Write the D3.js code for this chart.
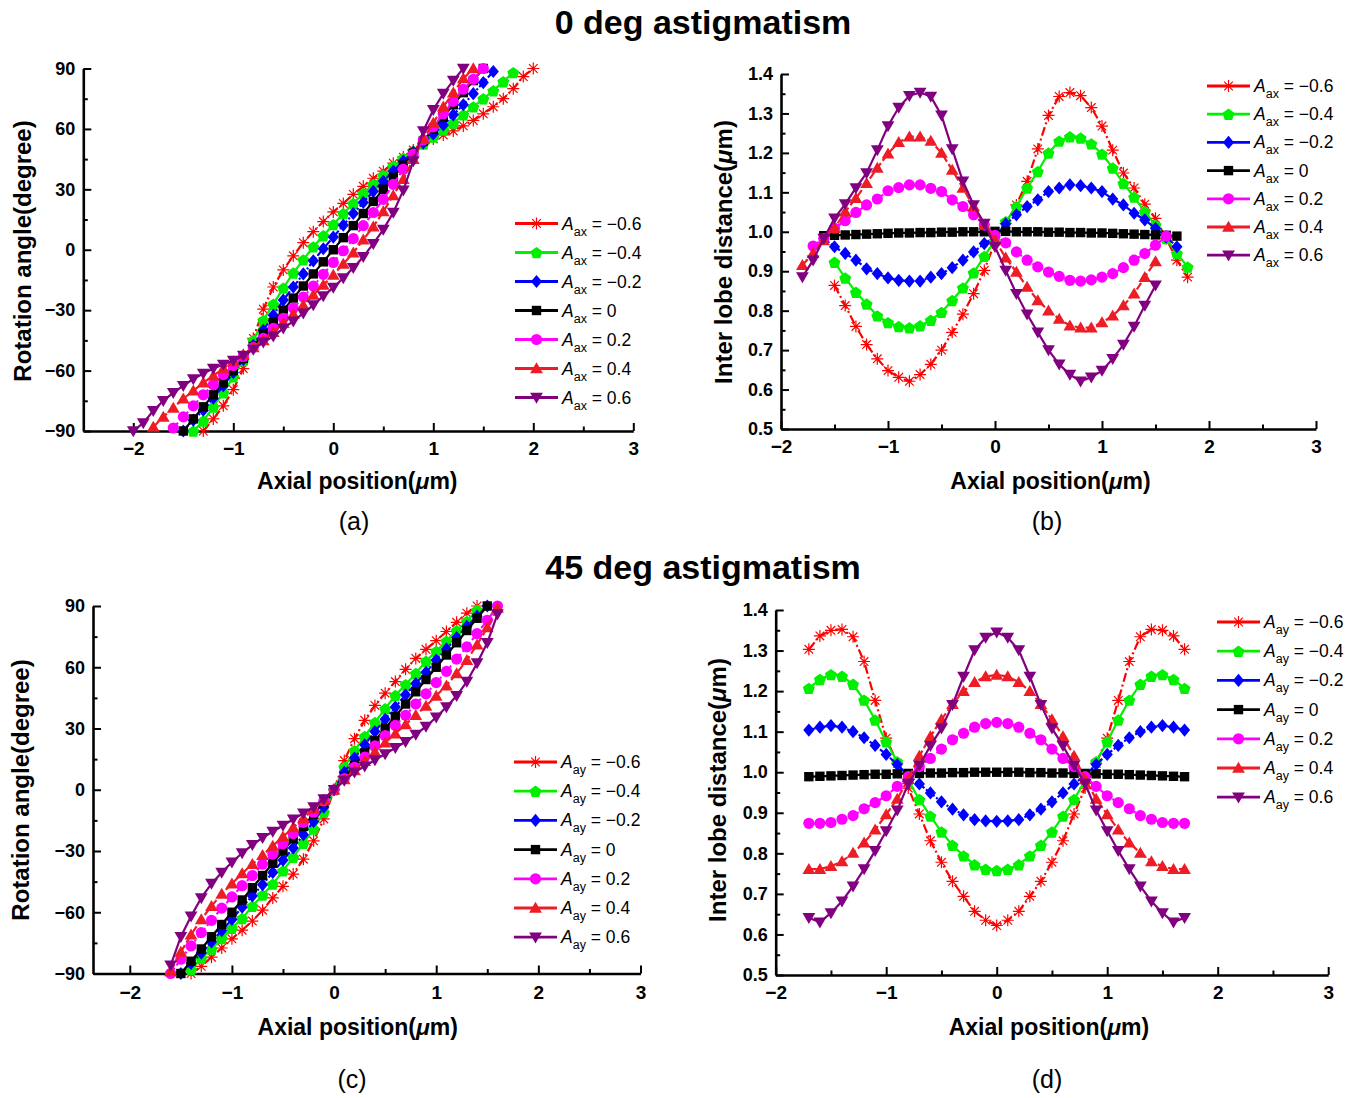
<!DOCTYPE html>
<html>
<head>
<meta charset="utf-8">
<script src="https://cdn.jsdelivr.net/npm/d3@7"></script>
<style>
  body { margin: 0; background: #fff; }
  text { font-family: "Liberation Sans", Arial, sans-serif; }
</style>
</head>
<body>
<svg id="chart" width="1353" height="1098"></svg>
<script>
// sampling grid of axial positions (um)
const axialGrid = [-2.0, -1.9, -1.8, -1.7, -1.6, -1.5, -1.4, -1.3, -1.2, -1.1, -1.0,
  -0.9, -0.8, -0.7, -0.6, -0.5, -0.4, -0.3, -0.2, -0.1, 0.0, 0.1, 0.2, 0.3, 0.4, 0.5,
  0.6, 0.7, 0.8, 0.9, 1.0, 1.1, 1.2, 1.3, 1.4, 1.5, 1.6, 1.7, 1.8, 1.9, 2.0];

const coefLabels = ['\u22120.6', '\u22120.4', '\u22120.2', '0', '0.2', '0.4', '0.6'];

// (a) rotation angle, 0 deg astigmatism
const panelA_starts = [-1.3, -1.4, -1.5, -1.5, -1.6, -1.8, -2.0];
const panelA_m06 = [-90, -84, -77.5, -69.5, -59, -44, -29.5, -18.5, -10, -3, 3.5, 9, 14, 18.8, 23, 27.5, 31.5, 35.5, 39, 43, 46, 49.5, 52.5, 55, 57, 59, 61.5, 64.2, 67.5, 71, 75, 80, 86, 90];
const panelA_m04 = [-90, -85, -78, -71, -63, -55, -45, -35, -27, -19, -11.5, -5, 1.5, 7, 12.5, 18, 23, 28, 32.5, 37, 41.5, 45.5, 49, 52.5, 56, 59.5, 63, 67, 71, 75, 79, 83.5, 88];
const panelA_m02 = [-90, -84.6, -79.7, -73.7, -67.5, -61, -54.5, -47.5, -40, -32.5, -25, -18.5, -12, -5.5, 0.5, 6.3, 12.2, 18, 23.5, 29, 34, 39, 44, 48.5, 53, 57.5, 62, 67, 72, 77.5, 83, 88.5];
const panelA_0 = [-90, -84, -78, -72, -66, -60, -54, -48, -42, -36, -30, -24, -18, -12, -6, 0, 6, 12, 18, 24, 30, 36, 42, 48, 54, 60, 66, 72, 78, 84, 90];
const panelA_p02 = [-88.5, -83, -77.5, -72, -67, -62, -57.5, -53, -48.5, -44, -39, -34, -29, -23.5, -18, -12.2, -6.3, -0.5, 5.5, 12, 18.5, 25, 32.5, 40, 47.5, 54.5, 61, 67.5, 73.7, 79.7, 84.6, 90];
const panelA_p04 = [-88, -83, -78.5, -74, -70, -66, -62.5, -59, -55.5, -52, -48.5, -45, -41, -36.5, -32, -27.5, -22.5, -17.5, -12.5, -7, -1.5, 5, 11.5, 19, 27, 35, 45, 55, 63, 71, 78, 85, 90];
const panelA_p06 = [-90, -86, -80, -75, -71, -67.5, -64.2, -61.5, -59, -57, -55, -52.5, -49.5, -46, -43, -39, -35.5, -31.5, -27.5, -23, -18.8, -14, -9, -3.5, 3, 10, 18.5, 29.5, 44, 59, 69.5, 77.5, 84, 90];

// (b) inter lobe distance, 0 deg astigmatism
const panelB_starts = [-1.5, -1.5, -1.6, -1.6, -1.7, -1.8, -1.8];
const panelB_m06 = [0.864, 0.813, 0.760, 0.714, 0.678, 0.648, 0.631, 0.621, 0.638, 0.664, 0.700, 0.745, 0.791, 0.843, 0.902, 0.975, 1.021, 1.068, 1.128, 1.210, 1.295, 1.343, 1.353, 1.345, 1.315, 1.268, 1.207, 1.149, 1.111, 1.070, 1.034, 0.983, 0.928, 0.885];
const panelB_m04 = [0.923, 0.883, 0.847, 0.817, 0.787, 0.770, 0.760, 0.757, 0.762, 0.776, 0.796, 0.826, 0.858, 0.896, 0.938, 0.978, 1.026, 1.064, 1.111, 1.153, 1.200, 1.230, 1.241, 1.238, 1.223, 1.197, 1.162, 1.123, 1.088, 1.051, 1.017, 0.983, 0.945, 0.911];
const panelB_m02 = [0.983, 0.962, 0.945, 0.928, 0.906, 0.894, 0.883, 0.877, 0.875, 0.875, 0.885, 0.894, 0.909, 0.928, 0.949, 0.970, 0.987, 1.020, 1.043, 1.064, 1.081, 1.102, 1.111, 1.119, 1.117, 1.111, 1.102, 1.083, 1.068, 1.047, 1.030, 1.009, 0.987, 0.962];
const panelB_0 = [0.990, 0.991, 0.992, 0.993, 0.994, 0.995, 0.996, 0.997, 0.997, 0.998, 0.998, 0.999, 0.999, 1.000, 1.000, 1.000, 1.001, 1.001, 1.000, 1.000, 1.000, 0.999, 0.999, 0.998, 0.998, 0.997, 0.997, 0.996, 0.995, 0.994, 0.993, 0.992, 0.991, 0.989];
const panelB_p02 = [0.964, 0.983, 1.009, 1.028, 1.049, 1.068, 1.083, 1.104, 1.112, 1.119, 1.119, 1.110, 1.102, 1.081, 1.064, 1.043, 1.017, 0.991, 0.972, 0.949, 0.928, 0.911, 0.898, 0.887, 0.877, 0.875, 0.878, 0.885, 0.894, 0.909, 0.928, 0.945, 0.966, 0.989];
const panelB_p04 = [0.915, 0.946, 0.978, 1.009, 1.051, 1.085, 1.123, 1.162, 1.198, 1.227, 1.241, 1.241, 1.230, 1.200, 1.157, 1.111, 1.064, 1.017, 0.979, 0.934, 0.898, 0.860, 0.826, 0.800, 0.779, 0.762, 0.757, 0.757, 0.770, 0.787, 0.813, 0.843, 0.885, 0.925];
const panelB_p06 = [0.885, 0.928, 0.983, 1.034, 1.070, 1.111, 1.149, 1.207, 1.268, 1.315, 1.345, 1.353, 1.343, 1.295, 1.210, 1.128, 1.068, 1.021, 0.962, 0.902, 0.843, 0.791, 0.745, 0.700, 0.664, 0.638, 0.621, 0.631, 0.648, 0.678, 0.714, 0.760, 0.813, 0.864];

// (c) rotation angle, 45 deg astigmatism
const panelC_starts = [-1.4, -1.4, -1.5, -1.5, -1.6, -1.6, -1.6];
const panelC_m06 = [-90, -86.5, -82, -77.5, -73, -68.8, -64.3, -59, -53, -47.3, -41.3, -34, -25, -14.3, 0, 14.3, 25, 34, 41.3, 47.3, 53, 59, 64.3, 68.8, 73, 77.5, 82, 86.5, 90];
const panelC_m04 = [-88, -82.5, -78, -72.8, -67.8, -63, -57, -51.5, -46.2, -39.7, -33, -26.2, -19.2, -11, 0, 11, 19.2, 26.2, 33, 39.7, 46.2, 51.5, 57, 63, 67.8, 72.8, 78, 82.5, 88];
const panelC_m02 = [-90, -85, -80, -74.5, -69, -63.5, -57.5, -52, -46.5, -40.5, -34.5, -28.5, -22, -15.5, -8.5, 0, 8.5, 15.5, 22, 28.5, 34.5, 40.5, 46.5, 52, 57.5, 63.5, 69, 74.5, 80, 85, 90];
const panelC_0 = [-90, -84, -78, -72, -66, -60, -54, -48, -42, -36, -30, -24, -18, -12, -6, 0, 6, 12, 18, 24, 30, 36, 42, 48, 54, 60, 66, 72, 78, 84, 90];
const panelC_p02 = [-90, -83, -76.5, -70, -64, -58, -52.5, -47, -42, -36.5, -31.5, -26.5, -21.5, -16, -11, -5.5, 0, 5.5, 11, 16, 21.5, 26.5, 31.5, 36.5, 42, 47, 52.5, 58, 64, 70, 76.5, 83, 90];
const panelC_p04 = [-89, -79.5, -71, -63.5, -57, -51, -46, -41, -36.5, -32, -27.5, -23, -18.5, -14, -9.5, -5, 0, 5, 9.5, 14, 18.5, 23, 27.5, 32, 36.5, 41, 46, 51, 57, 63.5, 71, 79.5, 89];
const panelC_p06 = [-86, -72, -62, -53, -46, -40.5, -35.5, -31, -27, -23.5, -20.5, -17.5, -14.5, -11.5, -8.5, -4.5, 0, 4.5, 8.5, 11.5, 14.5, 17.5, 20.5, 23.5, 27, 31, 35.5, 40.5, 46, 53, 62, 72, 86];

// (d) inter lobe distance, 45 deg astigmatism
const panelD_starts = [-1.7, -1.7, -1.7, -1.7, -1.7, -1.7, -1.7];
const panelD_m06 = [1.303, 1.336, 1.350, 1.352, 1.334, 1.273, 1.177, 1.084, 1.022, 0.961, 0.897, 0.831, 0.778, 0.731, 0.694, 0.657, 0.635, 0.622, 0.635, 0.657, 0.694, 0.731, 0.778, 0.831, 0.897, 0.961, 1.022, 1.084, 1.177, 1.273, 1.334, 1.352, 1.350, 1.336, 1.303];
const panelD_m04 = [1.207, 1.229, 1.241, 1.237, 1.217, 1.178, 1.129, 1.075, 1.026, 0.979, 0.933, 0.892, 0.853, 0.820, 0.794, 0.772, 0.761, 0.758, 0.761, 0.772, 0.794, 0.820, 0.853, 0.892, 0.933, 0.979, 1.026, 1.075, 1.129, 1.178, 1.217, 1.237, 1.241, 1.229, 1.207];
const panelD_m02 = [1.104, 1.111, 1.115, 1.111, 1.100, 1.085, 1.066, 1.044, 1.019, 0.992, 0.971, 0.949, 0.927, 0.909, 0.895, 0.883, 0.880, 0.879, 0.880, 0.883, 0.895, 0.909, 0.927, 0.949, 0.971, 0.992, 1.019, 1.044, 1.066, 1.085, 1.100, 1.111, 1.115, 1.111, 1.104];
const panelD_0 = [0.989, 0.990, 0.991, 0.992, 0.993, 0.994, 0.995, 0.995, 0.996, 0.997, 0.997, 0.998, 0.998, 0.999, 0.999, 1.000, 1.000, 1.000, 1.000, 1.000, 0.999, 0.999, 0.998, 0.998, 0.997, 0.997, 0.996, 0.995, 0.995, 0.994, 0.993, 0.992, 0.991, 0.990, 0.989];
const panelD_p02 = [0.874, 0.874, 0.876, 0.884, 0.893, 0.910, 0.925, 0.942, 0.965, 0.989, 1.014, 1.034, 1.057, 1.080, 1.096, 1.111, 1.120, 1.123, 1.120, 1.111, 1.096, 1.080, 1.057, 1.034, 1.014, 0.989, 0.965, 0.942, 0.925, 0.910, 0.893, 0.884, 0.876, 0.874, 0.874];
const panelD_p04 = [0.761, 0.761, 0.768, 0.780, 0.801, 0.826, 0.858, 0.896, 0.934, 0.983, 1.040, 1.088, 1.130, 1.168, 1.200, 1.222, 1.236, 1.240, 1.236, 1.222, 1.200, 1.168, 1.130, 1.088, 1.040, 0.983, 0.934, 0.896, 0.858, 0.826, 0.801, 0.780, 0.768, 0.761, 0.761];
const panelD_p06 = [0.641, 0.630, 0.653, 0.682, 0.719, 0.761, 0.806, 0.855, 0.906, 0.972, 1.017, 1.065, 1.108, 1.166, 1.236, 1.301, 1.332, 1.345, 1.332, 1.301, 1.236, 1.166, 1.108, 1.065, 1.017, 0.972, 0.906, 0.855, 0.806, 0.761, 0.719, 0.682, 0.653, 0.630, 0.641];

const angleTicks = [-90, -60, -30, 0, 30, 60, 90];
const angleMinor = [-75, -45, -15, 15, 45, 75];
const distTicks = [0.5, 0.6, 0.7, 0.8, 0.9, 1.0, 1.1, 1.2, 1.3, 1.4];
const distMinor = [0.55, 0.65, 0.75, 0.85, 0.95, 1.05, 1.15, 1.25, 1.35];
const axialTicks = [-2, -1, 0, 1, 2, 3];
const axialMinor = [-1.5, -0.5, 0.5, 1.5, 2.5];

// look of each series, in legend order
const styles = [
  { color: '#ff0000', marker: 'asterisk', dash: '9,3,2,3' },
  { color: '#00f000', marker: 'pentagon', dash: null },
  { color: '#0000ff', marker: 'diamond', dash: '7,2,2,2' },
  { color: '#000000', marker: 'square', dash: null },
  { color: '#ff00ff', marker: 'circle', dash: '7,3,2,3' },
  { color: '#ee1c25', marker: 'triangleUp', dash: '8,3' },
  { color: '#800080', marker: 'triangleDown', dash: null }
];

const svg = d3.select('#chart');

function markerPath(kind) {
  switch (kind) {
    case 'asterisk': return 'M-6,0H6M0,-6V6M-4.3,-4.3L4.3,4.3M-4.3,4.3L4.3,-4.3';
    case 'pentagon': {
      const r = 6.3;
      const pts = d3.range(5).map(k => {
        const a = -Math.PI / 2 + k * 2 * Math.PI / 5;
        return [r * Math.cos(a), r * Math.sin(a) + 0.7];
      });
      return 'M' + pts.map(p => p.join(',')).join('L') + 'Z';
    }
    case 'diamond': return 'M0,-6.6L5.6,0L0,6.6L-5.6,0Z';
    case 'square': return 'M-4.7,-4.7H4.7V4.7H-4.7Z';
    case 'circle': return d3.symbol(d3.symbolCircle, 98)();
    case 'triangleUp': return 'M0,-6.2L6.4,4.8L-6.4,4.8Z';
    case 'triangleDown': return 'M0,6.2L6.4,-4.8L-6.4,-4.8Z';
  }
}

function styleMarker(sel, st) {
  if (st.marker === 'asterisk') {
    sel.attr('fill', 'none').attr('stroke', st.color).attr('stroke-width', 1.2);
  } else {
    sel.attr('fill', st.color).attr('stroke', 'none');
  }
}

function pointsFrom(values, start) {
  const k = axialGrid.findIndex(z => Math.abs(z - start) < 1e-6);
  return values.map((v, i) => [axialGrid[k + i], v]);
}

function drawPanel(p) {
  const x = d3.scaleLinear().domain(p.xDomain).range([p.left, p.right]);
  const y = d3.scaleLinear().domain(p.yDomain).range([p.bottom, p.top]);
  const g = svg.append('g');

  // minor ticks
  g.append('g').attr('transform', `translate(0,${p.bottom})`)
    .call(d3.axisBottom(x).tickValues(axialMinor).tickSize(-4.5).tickFormat(''))
    .call(a => a.select('.domain').remove())
    .selectAll('line').attr('stroke-width', 2);
  g.append('g').attr('transform', `translate(${p.left},0)`)
    .call(d3.axisLeft(y).tickValues(p.yMinor).tickSize(-4.5).tickFormat(''))
    .call(a => a.select('.domain').remove())
    .selectAll('line').attr('stroke-width', 2);

  // main axes
  const xa = g.append('g').attr('transform', `translate(0,${p.bottom})`)
    .call(d3.axisBottom(x).tickValues(axialTicks).tickSizeInner(-8).tickSizeOuter(0)
      .tickPadding(p.xPad).tickFormat(d3.format('d')));
  xa.attr('font-size', 19).attr('font-weight', 'bold').attr('font-family', null);
  const ya = g.append('g').attr('transform', `translate(${p.left},0)`)
    .call(d3.axisLeft(y).tickValues(p.yTicks).tickSizeInner(-8).tickSizeOuter(0)
      .tickPadding(8).tickFormat(p.yFormat));
  ya.attr('font-size', 18).attr('font-weight', 'bold').attr('font-family', null);
  [xa, ya].forEach(a => {
    a.select('.domain').attr('stroke-width', 2.6);
    a.selectAll('line').attr('stroke-width', 2);
  });

  // series
  const line = d3.line().x(d => x(d[0])).y(d => y(d[1]));
  p.series.forEach((vals, i) => {
    const st = styles[i];
    const pts = pointsFrom(vals, p.starts[i]);
    const sg = g.append('g');
    sg.append('path').datum(pts)
      .attr('d', line)
      .attr('fill', 'none')
      .attr('stroke', st.color)
      .attr('stroke-width', 2.2)
      .attr('stroke-dasharray', st.dash);
    sg.selectAll('path.mk').data(pts).join('path')
      .attr('class', 'mk')
      .attr('d', markerPath(st.marker))
      .attr('transform', d => `translate(${x(d[0])},${y(d[1])})`)
      .call(styleMarker, st);
  });

  // legend
  const lg = g.append('g');
  coefLabels.forEach((lab, i) => {
    const st = styles[i];
    const ry = p.legY + i * p.legStep;
    lg.append('line')
      .attr('x1', p.legX).attr('x2', p.legX + 43)
      .attr('y1', ry).attr('y2', ry)
      .attr('stroke', st.color).attr('stroke-width', 2.8);
    lg.append('path')
      .attr('d', markerPath(st.marker))
      .attr('transform', `translate(${p.legX + 21.5},${ry})`)
      .call(styleMarker, st);
    const t = lg.append('text')
      .attr('x', p.legX + 47).attr('y', ry + 6)
      .attr('font-size', 17.5);
    t.append('tspan').attr('font-style', 'italic').text('A');
    t.append('tspan').attr('font-size', 12.5).attr('dy', 6).text(p.sub);
    t.append('tspan').attr('dy', -6).text(' = ' + lab);
  });

  // axis titles
  const xt = g.append('text')
    .attr('x', (p.left + p.right) / 2 + p.xTitleShift).attr('y', p.xTitleY)
    .attr('text-anchor', 'middle').attr('font-size', 23).attr('font-weight', 'bold');
  xt.append('tspan').text('Axial position(');
  xt.append('tspan').attr('font-style', 'italic').text('\u03bc');
  xt.append('tspan').text('m)');

  const yt = g.append('text')
    .attr('transform', `translate(${p.yTitleX},${p.yTitleY}) rotate(-90)`)
    .attr('text-anchor', 'middle').attr('dy', '0.36em')
    .attr('font-size', 24).attr('font-weight', 'bold');
  if (p.yUnit) {
    yt.append('tspan').text(p.yTitle + '(');
    yt.append('tspan').attr('font-style', 'italic').text('\u03bc');
    yt.append('tspan').text('m)');
  } else {
    yt.text(p.yTitle);
  }

  g.append('text')
    .attr('x', p.capX).attr('y', p.capY)
    .attr('text-anchor', 'middle').attr('font-size', 25)
    .text(p.cap);
}

drawPanel({
  left: 83.3, right: 633.3, top: 68.5, bottom: 431,
  xDomain: [-2.5, 3], yDomain: [-90, 90],
  yTicks: angleTicks, yMinor: angleMinor, yFormat: d3.format('d'), xPad: 11,
  series: [panelA_m06, panelA_m04, panelA_m02, panelA_0, panelA_p02, panelA_p04, panelA_p06],
  starts: panelA_starts, sub: 'ax',
  legX: 515, legY: 223.5, legStep: 29,
  xTitleY: 489, xTitleShift: -1, yTitleX: 22, yTitleY: 251,
  yTitle: 'Rotation angle(degree)', yUnit: false,
  cap: '(a)', capX: 354, capY: 530
});

drawPanel({
  left: 781, right: 1316, top: 74, bottom: 429,
  xDomain: [-2, 3], yDomain: [0.5, 1.4],
  yTicks: distTicks, yMinor: distMinor, yFormat: d3.format('.1f'), xPad: 11,
  series: [panelB_m06, panelB_m04, panelB_m02, panelB_0, panelB_p02, panelB_p04, panelB_p06],
  starts: panelB_starts, sub: 'ax',
  legX: 1207, legY: 86, legStep: 28.2,
  xTitleY: 489, xTitleShift: 2, yTitleX: 723, yTitleY: 252,
  yTitle: 'Inter lobe distance', yUnit: true,
  cap: '(b)', capX: 1047, capY: 530
});

drawPanel({
  left: 93, right: 640.5, top: 606, bottom: 973.5,
  xDomain: [-2.36, 3], yDomain: [-90, 90],
  yTicks: angleTicks, yMinor: angleMinor, yFormat: d3.format('d'), xPad: 12,
  series: [panelC_m06, panelC_m04, panelC_m02, panelC_0, panelC_p02, panelC_p04, panelC_p06],
  starts: panelC_starts, sub: 'ay',
  legX: 514, legY: 762, legStep: 29.2,
  xTitleY: 1035, xTitleShift: -9, yTitleX: 20, yTitleY: 790,
  yTitle: 'Rotation angle(degree)', yUnit: false,
  cap: '(c)', capX: 352, capY: 1088
});

drawPanel({
  left: 775.7, right: 1328.2, top: 610, bottom: 975,
  xDomain: [-2, 3], yDomain: [0.5, 1.4],
  yTicks: distTicks, yMinor: distMinor, yFormat: d3.format('.1f'), xPad: 11,
  series: [panelD_m06, panelD_m04, panelD_m02, panelD_0, panelD_p02, panelD_p04, panelD_p06],
  starts: panelD_starts, sub: 'ay',
  legX: 1217, legY: 622, legStep: 29.2,
  xTitleY: 1035, xTitleShift: -3, yTitleX: 717, yTitleY: 790,
  yTitle: 'Inter lobe distance', yUnit: true,
  cap: '(d)', capX: 1047, capY: 1088
});

// panel group titles
svg.append('text').attr('x', 703).attr('y', 34)
  .attr('text-anchor', 'middle').attr('font-size', 34).attr('font-weight', 'bold')
  .text('0 deg astigmatism');
svg.append('text').attr('x', 703).attr('y', 579)
  .attr('text-anchor', 'middle').attr('font-size', 34).attr('font-weight', 'bold')
  .text('45 deg astigmatism');
</script>
</body>
</html>
